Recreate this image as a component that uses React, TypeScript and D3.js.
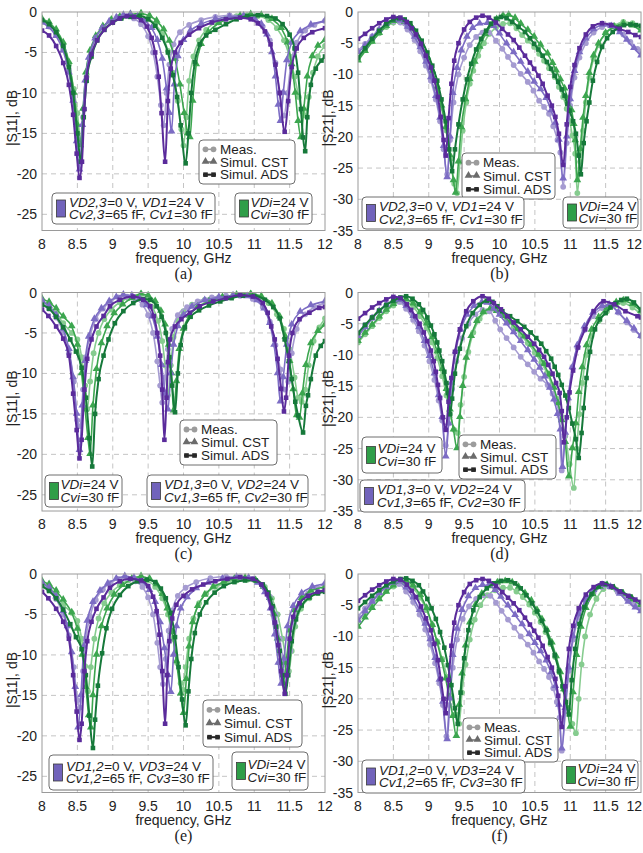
import React from 'react';
import * as d3 from 'd3';

type Pt = [number, number];

// ---------- data: frequency (GHz), dB ----------
const freqTicks = [8, 8.5, 9, 9.5, 10, 10.5, 11, 11.5, 12];
const s11Ticks = [0, -5, -10, -15, -20, -25];
const s21Ticks = [0, -5, -10, -15, -20, -25, -30, -35];

// (a) |S11|
const aPurADS: Pt[] = [[8,-2.3],[8.1,-2.9],[8.2,-4.2],[8.3,-6.3],[8.38,-9],[8.44,-12.7],[8.49,-17.5],[8.53,-20.5],[8.565,-18.5],[8.6,-12],[8.63,-8.1],[8.7,-5.2],[8.78,-3.5],[8.88,-2.2],[9,-1.3],[9.1,-0.8],[9.2,-0.5],[9.3,-0.6],[9.4,-1.0],[9.48,-1.8],[9.55,-3.2],[9.6,-5],[9.65,-8],[9.69,-12.5],[9.74,-18.5],[9.78,-11],[9.82,-7],[9.88,-5],[9.96,-3.8],[10.08,-2.8],[10.22,-2],[10.4,-1.3],[10.6,-0.9],[10.8,-0.7],[10.95,-0.9],[11.05,-1.4],[11.15,-2.4],[11.23,-4],[11.3,-6.5],[11.36,-10],[11.43,-14.8],[11.48,-11],[11.53,-6.8],[11.6,-4.5],[11.7,-3.2],[11.82,-2.5],[12,-2.0]];
const aPurCST: Pt[] = [[8,-1.3],[8.1,-1.9],[8.2,-3],[8.3,-4.8],[8.38,-7.5],[8.44,-11],[8.49,-16],[8.53,-19.5],[8.57,-14],[8.61,-8.5],[8.66,-5.7],[8.75,-3.3],[8.85,-2],[8.95,-1.2],[9.05,-0.7],[9.15,-0.4],[9.25,-0.3],[9.35,-0.6],[9.45,-1.1],[9.55,-2],[9.63,-3.5],[9.7,-5.8],[9.76,-9.5],[9.8,-12.5],[9.83,-14.8],[9.87,-9],[9.92,-5.5],[10,-3.5],[10.1,-2.3],[10.25,-1.5],[10.45,-0.9],[10.65,-0.6],[10.85,-0.5],[11,-0.8],[11.1,-1.5],[11.18,-2.8],[11.25,-5],[11.3,-8],[11.34,-11.5],[11.37,-13.5],[11.41,-10],[11.46,-6],[11.53,-3.8],[11.65,-2.4],[11.8,-1.6],[12,-1.1]];
const aPurMeas: Pt[] = [[8,-1.2],[8.1,-1.8],[8.2,-2.8],[8.3,-4.6],[8.38,-7.2],[8.44,-10.5],[8.5,-15.5],[8.54,-18.5],[8.58,-13],[8.62,-8.5],[8.68,-5.5],[8.76,-3.3],[8.86,-1.9],[8.97,-1.1],[9.08,-0.6],[9.2,-0.5],[9.3,-0.8],[9.4,-1.5],[9.5,-3],[9.57,-5],[9.63,-8],[9.68,-11.5],[9.72,-14],[9.76,-10],[9.8,-6.5],[9.86,-4],[9.95,-2.5],[10.08,-1.6],[10.25,-1],[10.45,-0.6],[10.65,-0.4],[10.85,-0.5],[11,-0.9],[11.12,-1.8],[11.22,-3.5],[11.3,-6.3],[11.36,-10],[11.42,-12.8],[11.47,-10],[11.52,-6.3],[11.6,-3.8],[11.72,-2.3],[11.85,-1.6],[12,-1.1]];
const aGrnADS: Pt[] = [[8,-1.0],[8.1,-1.5],[8.2,-2.5],[8.3,-4.2],[8.38,-6.8],[8.44,-10],[8.5,-15],[8.55,-18.5],[8.59,-13],[8.63,-8.5],[8.7,-5.5],[8.78,-3.5],[8.88,-2.2],[9,-1.3],[9.12,-0.8],[9.25,-0.6],[9.38,-0.5],[9.5,-0.9],[9.6,-1.7],[9.7,-3.2],[9.78,-5],[9.85,-7.8],[9.91,-10.5],[9.96,-14],[10.03,-18.7],[10.07,-15],[10.11,-10],[10.16,-6.2],[10.23,-4],[10.32,-2.9],[10.45,-2.2],[10.6,-1.5],[10.75,-0.9],[10.9,-0.5],[11.05,-0.4],[11.18,-0.5],[11.3,-0.8],[11.4,-1.5],[11.5,-2.8],[11.57,-4.5],[11.62,-7.5],[11.66,-12],[11.69,-15.5],[11.72,-17.2],[11.75,-13],[11.8,-9],[11.87,-7],[11.95,-6],[12,-5.5]];
const aGrnCST: Pt[] = [[8,-0.9],[8.1,-1.3],[8.2,-2.2],[8.3,-3.8],[8.38,-6.2],[8.45,-10],[8.5,-14],[8.54,-16.5],[8.58,-12],[8.62,-7.5],[8.68,-4.8],[8.76,-3],[8.86,-1.8],[8.98,-1.0],[9.1,-0.6],[9.25,-0.3],[9.4,-0.2],[9.52,-0.5],[9.62,-1.1],[9.72,-2.2],[9.8,-3.6],[9.88,-5.8],[9.95,-9],[10.01,-12.5],[10.06,-15],[10.09,-15.5],[10.13,-11],[10.18,-6.5],[10.25,-4],[10.35,-2.5],[10.5,-1.4],[10.65,-0.8],[10.8,-0.5],[10.95,-0.3],[11.1,-0.4],[11.25,-0.9],[11.38,-2],[11.47,-3.8],[11.53,-6.5],[11.58,-10],[11.62,-13.5],[11.66,-15.5],[11.7,-12],[11.75,-8],[11.82,-5.5],[11.9,-4.2],[12,-3.5]];
const aGrnMeas: Pt[] = [[8,-1.2],[8.1,-1.7],[8.2,-2.6],[8.3,-4.2],[8.38,-6.5],[8.45,-9.5],[8.5,-12.5],[8.55,-16],[8.59,-12],[8.63,-8],[8.7,-5],[8.78,-3.2],[8.88,-2],[9,-1.2],[9.12,-0.7],[9.25,-0.5],[9.38,-0.5],[9.5,-0.8],[9.6,-1.5],[9.7,-2.8],[9.78,-4.8],[9.85,-7.5],[9.92,-11],[9.97,-14.5],[10.0,-16.5],[10.04,-13],[10.08,-8.5],[10.14,-5.5],[10.22,-3.5],[10.32,-2.2],[10.45,-1.3],[10.6,-0.8],[10.75,-0.5],[10.9,-0.4],[11.05,-0.5],[11.2,-1.0],[11.32,-2],[11.42,-3.5],[11.5,-5.5],[11.57,-8],[11.63,-10.5],[11.68,-12.3],[11.72,-12.8],[11.77,-10.5],[11.83,-7.5],[11.9,-5.5],[12,-4.2]];

// (b) |S21|
const bPurADS: Pt[] = [[8,-4.3],[8.1,-3.5],[8.2,-2.6],[8.3,-1.8],[8.4,-1.2],[8.5,-0.8],[8.6,-0.9],[8.69,-1.6],[8.76,-2.6],[8.82,-3.6],[8.89,-5.1],[8.96,-7],[9.03,-8.9],[9.08,-11],[9.13,-13.6],[9.17,-16.8],[9.21,-20.5],[9.24,-23],[9.28,-17],[9.32,-11.5],[9.36,-7.8],[9.42,-5],[9.5,-2.8],[9.58,-1.6],[9.67,-0.9],[9.76,-0.6],[9.85,-0.9],[9.95,-1.7],[10.04,-2.7],[10.12,-3.6],[10.2,-4.5],[10.28,-5.7],[10.36,-7],[10.43,-8.1],[10.49,-9.1],[10.55,-10.2],[10.61,-11.5],[10.68,-13.4],[10.74,-15],[10.79,-16.8],[10.84,-19.5],[10.9,-24.5],[10.95,-18],[11,-12],[11.06,-8.5],[11.13,-5.8],[11.22,-3.6],[11.32,-2.3],[11.45,-1.8],[11.58,-2.1],[11.7,-2.7],[11.82,-3.2],[11.92,-3.7],[12,-4.0]];
const bPurCST: Pt[] = [[8,-6.5],[8.1,-5.4],[8.2,-4.1],[8.3,-2.9],[8.4,-1.9],[8.5,-1.3],[8.6,-1.4],[8.7,-2.4],[8.8,-4],[8.88,-5.7],[8.96,-8],[9.03,-10.5],[9.1,-13.5],[9.16,-17],[9.21,-21.5],[9.26,-26.5],[9.3,-20],[9.34,-13],[9.4,-9],[9.46,-6.2],[9.54,-4],[9.62,-2.6],[9.72,-1.9],[9.83,-1.8],[9.92,-2.3],[10.0,-3.5],[10.1,-5.1],[10.2,-6.5],[10.3,-8],[10.4,-9.6],[10.49,-11.2],[10.58,-12.4],[10.66,-13.8],[10.73,-15.8],[10.79,-17.8],[10.84,-20.5],[10.9,-26.7],[10.95,-20],[11,-14],[11.06,-9.5],[11.13,-6.5],[11.22,-4.3],[11.33,-2.8],[11.45,-2.1],[11.58,-2.3],[11.7,-3.3],[11.8,-4.5],[11.9,-5.8],[12,-7.0]];
const bPurMeas: Pt[] = [[8,-6.2],[8.1,-5.1],[8.2,-3.9],[8.3,-2.8],[8.4,-2],[8.5,-1.5],[8.6,-1.7],[8.7,-2.8],[8.8,-4.5],[8.88,-6.3],[8.96,-8.6],[9.03,-11],[9.1,-14],[9.16,-17.5],[9.21,-22],[9.26,-26],[9.3,-20.5],[9.35,-14.5],[9.42,-10],[9.5,-7.3],[9.58,-5.3],[9.67,-4],[9.76,-3.3],[9.85,-3.3],[9.95,-4.6],[10.04,-5.9],[10.12,-7.2],[10.2,-8.5],[10.3,-9.9],[10.4,-11.2],[10.48,-12.6],[10.56,-14.2],[10.63,-15.2],[10.7,-16.3],[10.76,-18.3],[10.82,-20.5],[10.86,-22.5],[10.9,-28],[10.95,-21],[11,-15],[11.06,-10.5],[11.13,-7.3],[11.22,-5],[11.33,-3.3],[11.45,-2.4],[11.55,-2.1],[11.65,-2.6],[11.75,-3.6],[11.85,-4.8],[11.95,-5.9],[12,-6.3]];
const bGrnADS: Pt[] = [[8,-7.3],[8.1,-5.8],[8.2,-4.3],[8.3,-3],[8.4,-1.9],[8.5,-1.2],[8.58,-1.0],[8.66,-1.2],[8.74,-1.8],[8.82,-3],[8.9,-4.6],[8.98,-6.5],[9.05,-8.6],[9.12,-11],[9.18,-14],[9.24,-17.5],[9.29,-22],[9.33,-25.5],[9.37,-22],[9.42,-18],[9.48,-14],[9.54,-10.8],[9.6,-8.3],[9.67,-6],[9.74,-4.3],[9.81,-3],[9.88,-1.9],[9.95,-1.1],[10.02,-0.8],[10.1,-1.0],[10.18,-1.6],[10.27,-2.4],[10.36,-3.2],[10.43,-4.2],[10.49,-5.1],[10.55,-6],[10.61,-7],[10.67,-8],[10.73,-9.1],[10.78,-10.2],[10.83,-11.2],[10.88,-12.4],[10.92,-13.4],[10.96,-14.7],[10.99,-15.8],[11.04,-17.5],[11.08,-19.5],[11.12,-23],[11.15,-26],[11.19,-21],[11.23,-17.5],[11.27,-14.5],[11.32,-11],[11.38,-8],[11.45,-5.6],[11.52,-4.2],[11.6,-3.2],[11.68,-2.5],[11.76,-2.1],[11.85,-2.0],[11.93,-2.1],[12,-2.2]];
const bGrnCST: Pt[] = [[8,-7.8],[8.1,-6.3],[8.2,-4.8],[8.3,-3.4],[8.4,-2.3],[8.5,-1.5],[8.58,-1.3],[8.66,-1.6],[8.74,-2.4],[8.82,-3.6],[8.9,-5.3],[8.98,-7.3],[9.05,-9.5],[9.12,-12],[9.18,-15],[9.24,-18.5],[9.3,-23],[9.35,-27],[9.38,-29],[9.42,-24],[9.46,-18.5],[9.52,-14],[9.58,-10.8],[9.65,-8],[9.72,-5.6],[9.8,-3.6],[9.88,-2.2],[9.96,-1.2],[10.05,-0.6],[10.13,-0.5],[10.22,-1.0],[10.3,-1.9],[10.4,-2.9],[10.49,-4],[10.58,-5.3],[10.68,-6.7],[10.75,-8.2],[10.8,-9.4],[10.86,-10.8],[10.92,-12.3],[10.97,-14],[11.02,-15.8],[11.05,-18],[11.07,-20.6],[11.1,-27],[11.14,-22],[11.18,-17],[11.22,-13.5],[11.27,-9.8],[11.33,-7],[11.4,-5.1],[11.5,-3.4],[11.62,-2.4],[11.75,-1.9],[11.88,-2.2],[12,-3.0]];
const bGrnMeas: Pt[] = [[8,-7.5],[8.1,-6.1],[8.2,-4.7],[8.3,-3.4],[8.4,-2.4],[8.5,-1.7],[8.58,-1.5],[8.66,-1.8],[8.74,-2.6],[8.82,-3.8],[8.9,-5.4],[8.98,-7.4],[9.05,-9.6],[9.12,-12.2],[9.18,-15.3],[9.25,-19],[9.31,-23.5],[9.36,-27.5],[9.4,-29],[9.44,-24],[9.48,-19],[9.53,-14.5],[9.58,-11.5],[9.63,-9.4],[9.7,-7],[9.78,-5],[9.86,-3.5],[9.95,-2.5],[10.05,-1.9],[10.15,-1.8],[10.24,-2.6],[10.32,-3.7],[10.4,-4.6],[10.49,-5.6],[10.56,-6.7],[10.63,-7.8],[10.7,-9],[10.78,-10.4],[10.84,-12],[10.9,-13.6],[10.95,-15.5],[10.99,-17.4],[11.03,-19.8],[11.07,-22.7],[11.1,-29],[11.14,-24],[11.18,-19],[11.22,-14.5],[11.27,-10.5],[11.33,-7.5],[11.4,-5.3],[11.5,-3.4],[11.62,-2.2],[11.75,-1.6],[11.88,-1.8],[12,-2.6]];

// (c) |S11|
const cPurADS: Pt[] = [[8,-2.1],[8.09,-2.9],[8.2,-4.2],[8.3,-5.7],[8.38,-7.8],[8.44,-12.5],[8.49,-17],[8.53,-20.5],[8.56,-18.2],[8.6,-12],[8.64,-8.2],[8.7,-5.8],[8.77,-4.2],[8.87,-2.9],[8.96,-1.7],[9.1,-0.9],[9.29,-0.5],[9.43,-0.9],[9.53,-1.7],[9.58,-2.9],[9.63,-5],[9.67,-7.8],[9.7,-12],[9.73,-18.2],[9.76,-13],[9.78,-8.6],[9.81,-5.8],[9.88,-4.2],[9.97,-3.3],[10.09,-2.5],[10.23,-1.7],[10.42,-1.1],[10.6,-0.7],[10.8,-0.3],[10.98,-0.5],[11.12,-1.3],[11.19,-2.5],[11.24,-4.2],[11.29,-5.8],[11.33,-8.2],[11.38,-11.9],[11.42,-14.7],[11.45,-13],[11.49,-7.8],[11.54,-5],[11.64,-3.3],[11.78,-2.5],[11.92,-1.9],[12,-1.8]];
const cPurCST: Pt[] = [[8,-1.0],[8.1,-1.7],[8.2,-2.8],[8.3,-4.5],[8.38,-7],[8.44,-10.5],[8.49,-15],[8.53,-19.5],[8.57,-14],[8.61,-8.5],[8.66,-5.5],[8.74,-3.3],[8.84,-2],[8.95,-1.1],[9.05,-0.6],[9.15,-0.3],[9.27,-0.4],[9.38,-0.8],[9.48,-1.6],[9.56,-3],[9.63,-5.5],[9.69,-9],[9.74,-12.5],[9.78,-14.5],[9.82,-10],[9.86,-6.5],[9.92,-4.2],[10,-2.8],[10.12,-1.8],[10.3,-1.0],[10.5,-0.6],[10.7,-0.4],[10.9,-0.5],[11.04,-1.0],[11.14,-2],[11.22,-3.8],[11.28,-6.5],[11.33,-10],[11.37,-13.5],[11.41,-10.5],[11.46,-6.5],[11.53,-4],[11.65,-2.4],[11.8,-1.6],[12,-1.1]];
const cPurMeas: Pt[] = [[8,-1.3],[8.1,-2],[8.2,-3.1],[8.3,-4.9],[8.38,-7.5],[8.45,-11],[8.5,-15.8],[8.54,-16.5],[8.58,-12],[8.62,-8],[8.68,-5.3],[8.76,-3.3],[8.86,-2],[8.97,-1.1],[9.08,-0.6],[9.2,-0.5],[9.32,-0.8],[9.42,-1.5],[9.5,-2.8],[9.57,-5],[9.63,-8.5],[9.67,-11.5],[9.7,-13.6],[9.74,-10.5],[9.78,-7],[9.84,-4.5],[9.92,-2.8],[10.05,-1.8],[10.2,-1.1],[10.4,-0.6],[10.6,-0.4],[10.8,-0.4],[10.98,-0.8],[11.12,-1.8],[11.22,-3.6],[11.3,-6.5],[11.37,-9.5],[11.43,-12],[11.48,-11],[11.53,-7.5],[11.6,-4.5],[11.72,-2.7],[11.85,-1.8],[12,-1.3]];
const cGrnADS: Pt[] = [[8,-1.5],[8.1,-2.0],[8.2,-3.0],[8.3,-4.3],[8.4,-5.8],[8.48,-7.3],[8.56,-9.3],[8.62,-13],[8.67,-18],[8.71,-21.5],[8.75,-15],[8.8,-10.7],[8.87,-7.8],[8.94,-5.8],[9.03,-3.8],[9.15,-2.3],[9.29,-1.3],[9.43,-0.8],[9.53,-0.9],[9.62,-1.7],[9.69,-3],[9.75,-5],[9.8,-8],[9.84,-11.5],[9.88,-14.8],[9.92,-10],[9.96,-6.5],[10.02,-4.3],[10.1,-3],[10.22,-2.2],[10.36,-1.6],[10.52,-1.1],[10.68,-0.7],[10.84,-0.4],[11,-0.4],[11.15,-0.9],[11.27,-1.8],[11.36,-3.2],[11.43,-5.8],[11.49,-8.5],[11.53,-10.7],[11.58,-13.5],[11.62,-15.2],[11.69,-17.3],[11.73,-14],[11.76,-12.7],[11.8,-10.7],[11.87,-7.8],[11.94,-6.6],[12,-6.0]];
const cGrnCST: Pt[] = [[8,-0.8],[8.1,-1.2],[8.2,-2],[8.3,-3],[8.42,-4.2],[8.5,-6.5],[8.56,-10],[8.61,-14.5],[8.65,-18],[8.68,-20],[8.72,-14],[8.77,-9.5],[8.84,-6.3],[8.92,-4.2],[9.02,-2.6],[9.14,-1.5],[9.27,-0.7],[9.4,-0.2],[9.5,-0.4],[9.6,-1.1],[9.68,-2.3],[9.74,-4],[9.79,-6.5],[9.83,-10],[9.86,-14.6],[9.9,-11],[9.94,-7],[10,-4.5],[10.08,-2.9],[10.2,-1.8],[10.36,-1.1],[10.55,-0.6],[10.75,-0.3],[10.95,-0.2],[11.1,-0.5],[11.25,-1.4],[11.36,-3],[11.44,-5.5],[11.5,-8.5],[11.55,-12],[11.6,-15.2],[11.64,-15.5],[11.68,-12.5],[11.73,-9],[11.8,-6.3],[11.9,-4.8],[12,-4.0]];
const cGrnMeas: Pt[] = [[8,-1.2],[8.1,-1.7],[8.2,-2.6],[8.3,-3.8],[8.42,-5],[8.5,-5.8],[8.56,-8],[8.61,-11.5],[8.64,-14.4],[8.68,-11],[8.73,-7.5],[8.8,-5],[8.88,-3.3],[8.98,-2.1],[9.1,-1.2],[9.22,-0.7],[9.35,-0.5],[9.47,-0.9],[9.56,-1.8],[9.64,-3.5],[9.7,-6],[9.74,-9],[9.78,-12.7],[9.82,-9],[9.86,-5.5],[9.92,-3.5],[10.0,-2.3],[10.12,-1.5],[10.3,-0.9],[10.5,-0.6],[10.7,-0.4],[10.9,-0.3],[11.05,-0.6],[11.2,-1.3],[11.32,-2.7],[11.42,-4.5],[11.5,-7],[11.57,-10.5],[11.62,-13],[11.67,-13.5],[11.72,-12],[11.77,-9],[11.84,-6],[11.92,-4.3],[12,-3.2]];

// (d) |S21|
const dPurADS: Pt[] = [[8,-4.2],[8.1,-3.3],[8.2,-2.4],[8.3,-1.7],[8.4,-1.1],[8.5,-0.7],[8.6,-0.9],[8.69,-1.9],[8.75,-2.8],[8.81,-3.8],[8.87,-5],[8.93,-6.4],[8.98,-7.8],[9.03,-9.3],[9.07,-11],[9.1,-12.7],[9.13,-14.8],[9.16,-16.9],[9.2,-20],[9.24,-22],[9.28,-17.5],[9.32,-13.7],[9.37,-9.5],[9.44,-5.9],[9.53,-3],[9.63,-1.4],[9.76,-0.6],[9.85,-1.0],[9.92,-1.7],[10.02,-2.7],[10.11,-3.8],[10.2,-4.8],[10.3,-5.9],[10.4,-7.1],[10.49,-8.2],[10.56,-9.2],[10.63,-10.3],[10.69,-11.6],[10.75,-13],[10.8,-14.5],[10.85,-16.1],[10.88,-19],[10.91,-24],[10.95,-20],[10.99,-16],[11.04,-12.5],[11.11,-8.8],[11.21,-5.9],[11.33,-3],[11.47,-1.4],[11.62,-1.9],[11.78,-3],[11.95,-3.8],[12,-4.0]];
const dPurCST: Pt[] = [[8,-7.0],[8.1,-5.6],[8.2,-4.2],[8.3,-3],[8.4,-2],[8.5,-1.3],[8.58,-1.2],[8.68,-2.2],[8.78,-3.8],[8.86,-5.6],[8.94,-7.8],[9.01,-10.2],[9.08,-13],[9.14,-16.5],[9.19,-20],[9.24,-26.3],[9.28,-21],[9.32,-14.5],[9.38,-9.5],[9.45,-6],[9.54,-3.6],[9.64,-2.2],[9.75,-1.6],[9.83,-1.7],[9.92,-2.6],[10.0,-3.6],[10.1,-5],[10.2,-6.4],[10.3,-7.8],[10.4,-9.3],[10.49,-10.8],[10.57,-12.1],[10.64,-13.5],[10.71,-15.3],[10.77,-17.2],[10.82,-19.5],[10.86,-22],[10.89,-28],[10.93,-22.5],[10.97,-17],[11.03,-12],[11.1,-8.5],[11.2,-5.5],[11.32,-3.3],[11.45,-2.2],[11.55,-2],[11.68,-3.2],[11.8,-4.6],[11.9,-5.8],[12,-7.0]];
const dPurMeas: Pt[] = [[8,-6.5],[8.1,-5.2],[8.2,-4],[8.3,-2.9],[8.4,-2],[8.5,-1.5],[8.58,-1.5],[8.68,-2.6],[8.78,-4.4],[8.86,-6.2],[8.94,-8.5],[9.01,-11],[9.08,-14],[9.14,-17.3],[9.19,-20.5],[9.24,-24.5],[9.28,-21],[9.33,-15.5],[9.39,-11],[9.47,-7.3],[9.56,-5],[9.66,-3.5],[9.76,-2.8],[9.86,-3],[9.94,-4.5],[10.01,-5.9],[10.1,-7.3],[10.2,-8.8],[10.3,-10.3],[10.4,-11.5],[10.49,-12.7],[10.58,-13.8],[10.68,-14.8],[10.75,-16.2],[10.8,-17.4],[10.84,-19.5],[10.88,-28.5],[10.92,-23],[10.97,-17],[11.03,-12],[11.1,-8.8],[11.2,-6],[11.32,-3.8],[11.45,-2.5],[11.57,-2.1],[11.68,-3.2],[11.8,-4.8],[11.9,-6],[12,-7.0]];
const dGrnADS: Pt[] = [[8,-6.5],[8.1,-5.2],[8.2,-4],[8.3,-2.9],[8.4,-2],[8.5,-1.3],[8.6,-0.8],[8.68,-0.6],[8.77,-1.0],[8.86,-1.9],[8.92,-2.8],[8.98,-4],[9.03,-5.3],[9.08,-6.7],[9.12,-8],[9.15,-9.3],[9.19,-11],[9.22,-12.7],[9.25,-14.5],[9.27,-16.1],[9.3,-19.5],[9.33,-17],[9.37,-13],[9.44,-9],[9.53,-5.4],[9.62,-3.3],[9.72,-2],[9.82,-1.3],[9.9,-1.5],[9.97,-2.2],[10.04,-3],[10.15,-3.8],[10.25,-4.6],[10.35,-5.5],[10.44,-6.4],[10.52,-7.3],[10.59,-8.2],[10.66,-9.4],[10.73,-10.6],[10.78,-11.9],[10.83,-13.2],[10.88,-14.8],[10.93,-16.5],[10.98,-18.5],[11.03,-21],[11.08,-23.5],[11.12,-26.5],[11.16,-22.5],[11.19,-18.5],[11.23,-13.7],[11.28,-9.5],[11.35,-5.9],[11.42,-4.3],[11.5,-3.3],[11.57,-2.4],[11.64,-1.7],[11.72,-1.2],[11.8,-1.0],[11.9,-1.6],[12,-2.8]];
const dGrnCST: Pt[] = [[8,-7.8],[8.1,-6.5],[8.2,-5.2],[8.3,-3.9],[8.4,-2.8],[8.5,-1.9],[8.6,-1.2],[8.68,-1.1],[8.78,-1.8],[8.88,-3.2],[8.97,-5],[9.05,-7.2],[9.12,-9.5],[9.19,-12.3],[9.25,-15.5],[9.3,-18.8],[9.35,-22],[9.4,-25],[9.44,-20],[9.48,-15],[9.53,-10.5],[9.6,-7],[9.68,-4.6],[9.77,-3.2],[9.87,-2.6],[9.96,-3],[10.05,-3.8],[10.15,-4.8],[10.25,-5.9],[10.35,-7.1],[10.45,-8.4],[10.55,-10],[10.63,-11.5],[10.7,-13.2],[10.77,-15.3],[10.83,-17.8],[10.88,-20.5],[10.93,-24],[10.98,-29.5],[11.03,-25],[11.08,-21],[11.12,-16],[11.17,-12],[11.23,-8.5],[11.3,-6],[11.4,-4],[11.52,-2.5],[11.65,-1.6],[11.75,-1.3],[11.88,-1.9],[12,-3.0]];
const dGrnMeas: Pt[] = [[8,-8.0],[8.1,-6.7],[8.2,-5.4],[8.3,-4.1],[8.4,-3],[8.5,-2.1],[8.6,-1.5],[8.68,-1.5],[8.78,-2.3],[8.88,-3.8],[8.97,-5.7],[9.05,-8],[9.12,-10.5],[9.19,-13.4],[9.25,-16.5],[9.3,-19.5],[9.36,-22],[9.41,-22.5],[9.45,-18],[9.5,-13.5],[9.56,-9.5],[9.63,-6.4],[9.72,-4.2],[9.82,-3],[9.92,-2.6],[10.0,-3.2],[10.1,-4.3],[10.2,-5.5],[10.3,-6.8],[10.4,-8.1],[10.5,-9.6],[10.59,-11.2],[10.67,-12.9],[10.74,-14.8],[10.81,-17],[10.87,-19.8],[10.93,-23],[10.99,-27.5],[11.05,-31.3],[11.09,-25],[11.13,-19.5],[11.17,-14.5],[11.23,-10],[11.3,-7],[11.4,-4.6],[11.52,-3],[11.65,-2],[11.75,-1.7],[11.88,-2.4],[12,-3.5]];

// (e) |S11|
const ePurADS: Pt[] = [[8,-2.2],[8.09,-3],[8.2,-4.3],[8.3,-5.9],[8.38,-8],[8.44,-12.5],[8.49,-17],[8.53,-20.5],[8.56,-18.5],[8.6,-12],[8.64,-8.3],[8.7,-5.9],[8.77,-4.3],[8.87,-2.9],[8.96,-1.7],[9.1,-0.9],[9.25,-0.6],[9.4,-0.8],[9.5,-1.5],[9.57,-2.8],[9.62,-4.6],[9.66,-7.5],[9.7,-12],[9.74,-18.5],[9.77,-12.5],[9.8,-8.3],[9.84,-5.5],[9.9,-3.8],[10,-2.7],[10.12,-1.9],[10.28,-1.3],[10.45,-0.9],[10.62,-0.6],[10.8,-0.4],[10.98,-0.6],[11.1,-1.3],[11.18,-2.5],[11.24,-4.2],[11.29,-6],[11.34,-8.8],[11.38,-12],[11.43,-14.8],[11.46,-12.5],[11.5,-8],[11.55,-5.3],[11.64,-3.6],[11.76,-2.7],[11.9,-2.2],[12,-2.0]];
const ePurCST: Pt[] = [[8,-1.1],[8.1,-1.7],[8.2,-2.8],[8.3,-4.6],[8.36,-6.5],[8.42,-9.7],[8.47,-14],[8.51,-19],[8.55,-15],[8.59,-9],[8.64,-5.8],[8.72,-3.5],[8.82,-2.1],[8.93,-1.2],[9.05,-0.6],[9.17,-0.3],[9.3,-0.5],[9.42,-1],[9.52,-2],[9.6,-3.5],[9.67,-6],[9.73,-9.2],[9.78,-12.5],[9.82,-14.6],[9.86,-10],[9.9,-6.5],[9.96,-4.3],[10.05,-2.9],[10.18,-1.8],[10.35,-1.1],[10.55,-0.6],[10.75,-0.4],[10.92,-0.5],[11.05,-1.1],[11.15,-2.3],[11.23,-4.3],[11.29,-7.5],[11.34,-11],[11.38,-13.6],[11.42,-10.5],[11.47,-6.5],[11.55,-4],[11.67,-2.4],[11.82,-1.6],[12,-1.2]];
const ePurMeas: Pt[] = [[8,-1.3],[8.1,-2],[8.2,-3.1],[8.3,-5],[8.38,-7.6],[8.45,-11.5],[8.5,-15.6],[8.54,-16.5],[8.58,-12],[8.62,-8],[8.68,-5.2],[8.76,-3.2],[8.86,-1.9],[8.97,-1.1],[9.08,-0.6],[9.2,-0.5],[9.32,-0.9],[9.42,-1.6],[9.5,-2.9],[9.57,-5],[9.63,-8.5],[9.67,-11.5],[9.71,-13.6],[9.75,-10.5],[9.79,-7],[9.84,-4.5],[9.92,-2.7],[10.03,-1.7],[10.18,-1],[10.38,-0.5],[10.6,-0.3],[10.8,-0.3],[10.98,-0.6],[11.12,-1.4],[11.22,-2.8],[11.3,-5],[11.36,-8],[11.42,-11],[11.47,-12],[11.51,-9.5],[11.56,-6],[11.64,-3.8],[11.76,-2.4],[11.88,-1.7],[12,-1.3]];
const eGrnADS: Pt[] = [[8,-1.5],[8.1,-2.1],[8.2,-3],[8.3,-4.4],[8.4,-6.2],[8.48,-7.8],[8.56,-9.3],[8.62,-12.5],[8.67,-17.5],[8.72,-21.5],[8.75,-18],[8.79,-13.8],[8.85,-9.8],[8.91,-6.7],[8.99,-4.3],[9.1,-2.6],[9.22,-1.5],[9.35,-0.9],[9.48,-0.7],[9.6,-1.0],[9.68,-1.8],[9.75,-3],[9.82,-4.8],[9.88,-7.8],[9.93,-11.5],[9.98,-15.5],[10.03,-18.7],[10.07,-14.5],[10.11,-10.5],[10.16,-7.3],[10.23,-5],[10.32,-3.5],[10.44,-2.3],[10.57,-1.5],[10.72,-1],[10.87,-0.8],[11.02,-0.8],[11.12,-1.3],[11.2,-2.3],[11.26,-4],[11.31,-6.5],[11.36,-9.5],[11.4,-12.5],[11.44,-14.8],[11.48,-12.5],[11.53,-8.3],[11.59,-5.6],[11.67,-3.9],[11.78,-2.9],[11.9,-2.4],[12,-2.2]];
const eGrnCST: Pt[] = [[8,-0.9],[8.1,-1.3],[8.2,-2.1],[8.3,-3.2],[8.42,-4.8],[8.5,-6.8],[8.57,-10],[8.62,-14],[8.66,-17.5],[8.69,-19],[8.72,-15],[8.77,-10],[8.84,-6.5],[8.92,-4.3],[9.02,-2.6],[9.14,-1.4],[9.27,-0.6],[9.4,-0.3],[9.52,-0.6],[9.62,-1.3],[9.7,-2.5],[9.77,-4.3],[9.84,-7.2],[9.9,-10.8],[9.96,-14.8],[10.0,-17.2],[10.04,-13],[10.08,-9],[10.13,-6],[10.2,-4],[10.3,-2.6],[10.42,-1.6],[10.57,-1],[10.72,-0.6],[10.87,-0.5],[11.02,-0.8],[11.13,-1.6],[11.22,-3],[11.28,-5],[11.33,-8],[11.37,-11],[11.41,-13.5],[11.45,-11],[11.5,-7],[11.57,-4.5],[11.67,-3],[11.8,-2.1],[12,-1.6]];
const eGrnMeas: Pt[] = [[8,-1.2],[8.1,-1.7],[8.2,-2.6],[8.3,-3.8],[8.42,-4.8],[8.5,-5.8],[8.56,-8],[8.61,-11.4],[8.65,-14.5],[8.69,-11.5],[8.74,-8],[8.8,-5.5],[8.88,-3.6],[8.98,-2.3],[9.1,-1.4],[9.22,-0.8],[9.35,-0.6],[9.48,-0.8],[9.6,-1.6],[9.7,-3],[9.78,-5],[9.85,-8],[9.91,-11],[9.96,-13.5],[9.99,-14.3],[10.03,-11.5],[10.08,-8],[10.14,-5.5],[10.22,-3.6],[10.32,-2.4],[10.45,-1.6],[10.6,-1.1],[10.75,-0.8],[10.9,-0.7],[11.03,-0.9],[11.15,-1.6],[11.25,-3],[11.33,-5],[11.4,-8],[11.45,-10.5],[11.49,-12],[11.53,-9.5],[11.58,-6.5],[11.66,-4.3],[11.78,-3],[11.9,-2.3],[12,-2.0]];

// (f) |S21|
const fPurADS: Pt[] = [[8,-4.3],[8.1,-3.4],[8.2,-2.5],[8.3,-1.8],[8.4,-1.2],[8.5,-0.8],[8.6,-0.9],[8.69,-1.7],[8.76,-2.7],[8.82,-3.7],[8.89,-5.2],[8.96,-7.1],[9.03,-9],[9.08,-11.2],[9.13,-13.8],[9.17,-16.8],[9.21,-20],[9.24,-22.3],[9.28,-17],[9.32,-11.5],[9.36,-7.8],[9.42,-5],[9.5,-2.9],[9.58,-1.6],[9.67,-1.0],[9.76,-0.8],[9.85,-1.1],[9.95,-1.9],[10.04,-2.9],[10.12,-3.8],[10.2,-4.7],[10.28,-5.8],[10.36,-7],[10.43,-8.1],[10.49,-9.1],[10.55,-10.2],[10.61,-11.5],[10.68,-13.3],[10.74,-15],[10.79,-16.8],[10.83,-19.5],[10.88,-24.5],[10.93,-18],[10.98,-12],[11.04,-8.3],[11.12,-5.5],[11.22,-3.3],[11.33,-2.1],[11.45,-1.5],[11.58,-2],[11.7,-2.8],[11.82,-3.5],[11.92,-4.1],[12,-4.5]];
const fPurCST: Pt[] = [[8,-7.5],[8.1,-6],[8.2,-4.5],[8.3,-3.1],[8.4,-2.1],[8.5,-1.4],[8.58,-1.2],[8.68,-2.2],[8.78,-3.8],[8.87,-5.8],[8.95,-8],[9.02,-10.5],[9.09,-13.5],[9.15,-17],[9.2,-20.5],[9.26,-26.5],[9.3,-20],[9.34,-13],[9.4,-8.8],[9.47,-5.8],[9.56,-3.6],[9.66,-2.3],[9.76,-1.8],[9.85,-1.8],[9.94,-2.6],[10.02,-3.7],[10.12,-5.1],[10.22,-6.6],[10.32,-8.1],[10.42,-9.7],[10.5,-11.1],[10.58,-12.4],[10.66,-13.9],[10.73,-15.8],[10.79,-18],[10.84,-21],[10.88,-28],[10.93,-21.5],[10.98,-15],[11.04,-10],[11.12,-6.5],[11.22,-4.2],[11.33,-2.6],[11.45,-1.8],[11.57,-2.1],[11.7,-3.2],[11.82,-4.5],[11.92,-5.4],[12,-6.0]];
const fPurMeas: Pt[] = [[8,-6.8],[8.1,-5.5],[8.2,-4.2],[8.3,-3],[8.4,-2.1],[8.5,-1.6],[8.58,-1.6],[8.68,-2.8],[8.78,-4.5],[8.87,-6.5],[8.95,-8.9],[9.02,-11.3],[9.09,-14.3],[9.15,-17.5],[9.2,-21],[9.25,-26],[9.29,-21],[9.34,-15],[9.4,-10.5],[9.48,-7.2],[9.57,-5.2],[9.67,-4],[9.77,-3.4],[9.87,-3.5],[9.95,-4.6],[10.03,-5.9],[10.12,-7.3],[10.21,-8.6],[10.3,-10],[10.4,-11.3],[10.48,-12.6],[10.56,-14],[10.63,-15.2],[10.7,-16.5],[10.76,-18.3],[10.81,-20.5],[10.85,-23],[10.88,-28.3],[10.93,-22],[10.98,-15.5],[11.04,-10.5],[11.12,-7],[11.22,-4.6],[11.33,-3],[11.45,-2.1],[11.55,-2],[11.67,-2.9],[11.8,-4],[11.9,-4.9],[12,-5.5]];
const fGrnADS: Pt[] = [[8,-5.5],[8.1,-4.5],[8.2,-3.5],[8.3,-2.6],[8.4,-1.8],[8.5,-1.2],[8.6,-0.8],[8.68,-0.7],[8.77,-1.1],[8.86,-1.8],[8.92,-2.8],[8.98,-4],[9.04,-5.5],[9.1,-7.2],[9.16,-9.3],[9.22,-11.8],[9.27,-14.6],[9.32,-17.8],[9.37,-21.5],[9.41,-24],[9.45,-19],[9.5,-13.5],[9.56,-9],[9.63,-5.8],[9.72,-3.7],[9.82,-2.3],[9.92,-1.5],[10.02,-1.1],[10.12,-1.0],[10.22,-1.5],[10.3,-2.3],[10.38,-3.4],[10.46,-4.7],[10.53,-6],[10.6,-7.5],[10.66,-9],[10.72,-11],[10.78,-13],[10.84,-15.5],[10.89,-18],[10.94,-20.5],[10.98,-22.5],[11.02,-17],[11.07,-12],[11.13,-8],[11.2,-5.3],[11.3,-3.2],[11.4,-2],[11.5,-1.6],[11.6,-2],[11.72,-2.8],[11.85,-3.6],[12,-4.5]];
const fGrnCST: Pt[] = [[8,-8.5],[8.1,-7],[8.2,-5.5],[8.3,-4.1],[8.4,-2.9],[8.5,-1.9],[8.6,-1.2],[8.68,-1.1],[8.78,-1.9],[8.88,-3.4],[8.97,-5.5],[9.05,-8.2],[9.12,-11],[9.18,-13.8],[9.24,-16.8],[9.29,-19.8],[9.34,-22.8],[9.39,-26],[9.43,-21],[9.47,-16],[9.52,-11.5],[9.58,-7.8],[9.66,-5],[9.75,-3.2],[9.86,-2],[9.97,-1.4],[10.08,-1.2],[10.18,-1.4],[10.27,-2.1],[10.36,-3.1],[10.45,-4.3],[10.53,-5.8],[10.6,-7.3],[10.67,-9],[10.74,-11],[10.8,-13.2],[10.86,-15.8],[10.91,-18.5],[10.96,-21.5],[11.0,-24.5],[11.04,-19],[11.09,-13],[11.15,-8.5],[11.22,-5.5],[11.32,-3.3],[11.42,-2.1],[11.52,-1.8],[11.62,-2.3],[11.75,-3.2],[11.88,-4.1],[12,-5.0]];
const fGrnMeas: Pt[] = [[8,-7.5],[8.1,-6.2],[8.2,-4.9],[8.3,-3.7],[8.4,-2.7],[8.5,-2],[8.6,-1.5],[8.68,-1.5],[8.78,-2.3],[8.88,-3.8],[8.97,-5.8],[9.05,-8.2],[9.12,-10.8],[9.19,-13.6],[9.26,-16.5],[9.32,-19.5],[9.38,-22.5],[9.43,-24],[9.47,-19],[9.52,-14.5],[9.58,-10.5],[9.65,-7.3],[9.73,-5],[9.83,-3.4],[9.94,-2.6],[10.05,-2.2],[10.15,-2.2],[10.24,-2.8],[10.33,-3.7],[10.42,-4.9],[10.5,-6.2],[10.58,-7.7],[10.65,-9.3],[10.72,-11.2],[10.79,-13.3],[10.85,-15.7],[10.91,-18.5],[10.97,-21.5],[11.03,-24],[11.08,-25.5],[11.12,-20],[11.16,-14.5],[11.21,-10],[11.28,-6.5],[11.37,-4],[11.47,-2.4],[11.55,-2],[11.65,-2.5],[11.78,-3.6],[11.9,-4.6],[12,-5.5]];

// legend texts: [text, italic]
type Seg = [string, boolean];
const purA: Seg[][] = [[['VD2,3', true], ['=0 V, ', false], ['VD1', true], ['=24 V', false]], [['Cv2,3', true], ['=65 fF, ', false], ['Cv1', true], ['=30 fF', false]]];
const purC: Seg[][] = [[['VD1,3', true], ['=0 V, ', false], ['VD2', true], ['=24 V', false]], [['Cv1,3', true], ['=65 fF, ', false], ['Cv2', true], ['=30 fF', false]]];
const purE: Seg[][] = [[['VD1,2', true], ['=0 V, ', false], ['VD3', true], ['=24 V', false]], [['Cv1,2', true], ['=65 fF, ', false], ['Cv3', true], ['=30 fF', false]]];
const grnAll: Seg[][] = [[['VDi', true], ['=24 V', false]], [['Cvi', true], ['=30 fF', false]]];
const typeNames = ['Meas.', 'Simul. CST', 'Simul. ADS'];

// ---------- style / layout ----------
const PUR = { ADS: '#5a2b9b', CST: '#7c6cc4', Meas: '#a59bd1', swatch: '#7163bb' };
const GRN = { ADS: '#16793a', CST: '#3ca64f', Meas: '#86cc8f', swatch: '#2f9e48' };
const GRAY = { Meas: '#9c9c9c', CST: '#6b6b6b', ADS: '#282828' };
const COLS = [{ x0: 42, x1: 325 }, { x0: 358, x1: 641 }];
const ROWS = [12, 292.5, 574];
const PH = 218.5;
const FONT = '"Liberation Sans", Arial, sans-serif';
const LEG_FS = 13.5;

type Box = { x: number; y: number; w: number; h: number };
type PanelDef = {
  id: string; col: number; row: number; s21: boolean;
  pur: Pt[][]; grn: Pt[][]; // [Meas, CST, ADS]
  purText: Seg[][];
  typeBox: Box; purBox: Box; grnBox: Box;
};

const panels: PanelDef[] = [
  { id: 'a', col: 0, row: 0, s21: false, pur: [aPurMeas, aPurCST, aPurADS], grn: [aGrnMeas, aGrnCST, aGrnADS], purText: purA,
    typeBox: { x: 199, y: 140, w: 96, h: 44 }, purBox: { x: 52, y: 193, w: 163, h: 31 }, grnBox: { x: 235, y: 193, w: 77, h: 31 } },
  { id: 'b', col: 1, row: 0, s21: true, pur: [bPurMeas, bPurCST, bPurADS], grn: [bGrnMeas, bGrnCST, bGrnADS], purText: purA,
    typeBox: { x: 462, y: 153, w: 93, h: 46 }, purBox: { x: 362, y: 197, w: 162, h: 32 }, grnBox: { x: 563, y: 197, w: 75, h: 31 } },
  { id: 'c', col: 0, row: 1, s21: false, pur: [cPurMeas, cPurCST, cPurADS], grn: [cGrnMeas, cGrnCST, cGrnADS], purText: purC,
    typeBox: { x: 180, y: 420, w: 97, h: 45 }, purBox: { x: 147, y: 475, w: 161, h: 32 }, grnBox: { x: 45, y: 475, w: 77, h: 32 } },
  { id: 'd', col: 1, row: 1, s21: true, pur: [dPurMeas, dPurCST, dPurADS], grn: [dGrnMeas, dGrnCST, dGrnADS], purText: purC,
    typeBox: { x: 459, y: 435, w: 97, h: 44 }, purBox: { x: 360, y: 480, w: 165, h: 32 }, grnBox: { x: 362, y: 437, w: 80, h: 36 } },
  { id: 'e', col: 0, row: 2, s21: false, pur: [ePurMeas, ePurCST, ePurADS], grn: [eGrnMeas, eGrnCST, eGrnADS], purText: purE,
    typeBox: { x: 203, y: 700, w: 99, h: 47 }, purBox: { x: 49, y: 755, w: 164, h: 35 }, grnBox: { x: 232, y: 752, w: 76, h: 38 } },
  { id: 'f', col: 1, row: 2, s21: true, pur: [fPurMeas, fPurCST, fPurADS], grn: [fGrnMeas, fGrnCST, fGrnADS], purText: purE,
    typeBox: { x: 463, y: 718, w: 95, h: 44 }, purBox: { x: 362, y: 760, w: 163, h: 33 }, grnBox: { x: 562, y: 760, w: 76, h: 30 } },
];

const KINDS = ['Meas', 'CST', 'ADS'] as const;
const triPath = d3.symbol().type(d3.symbolTriangle).size(26)() as string;

function Marker({ kind, cx, cy, color }: { kind: string; cx: number; cy: number; color: string }) {
  if (kind === 'Meas') return <circle cx={cx} cy={cy} r={2.9} fill={color} />;
  if (kind === 'CST') return <path d={triPath} transform={`translate(${cx},${cy - 0.5})`} fill={color} />;
  return <rect x={cx - 2.3} y={cy - 2.3} width={4.6} height={4.6} fill={color} />;
}

// two lines in one text element, italic parts as tspans
function StateLegend({ box, segs, swatch }: { box: Box; segs: Seg[][]; swatch: string }) {
  const tx = box.x + (segs[0].length > 2 ? 17 : 15.5);
  const lh = 12.5;
  const b1 = box.y + box.h / 2 - 2;
  return (
    <g>
      <rect x={box.x} y={box.y} width={box.w} height={box.h} rx={4} fill="#fff" stroke="#6e6e6e" strokeWidth={1} />
      <rect x={box.x + 4.5} y={box.y + box.h / 2 - 8.5} width={9} height={17} fill={swatch} stroke="#3a3a3a" strokeWidth={0.8} />
      <text fontSize={LEG_FS} fontFamily={FONT} fill="#1e1e1e" style={{ whiteSpace: 'pre' }}>
        {segs.map((line, i) =>
          line.map((s, j) => (
            <tspan key={i + '-' + j} x={j === 0 ? tx : undefined} y={j === 0 ? b1 + i * lh : undefined}
              fontStyle={s[1] ? 'italic' : 'normal'} dx={!s[1] && j > 0 ? 0.6 : 0}>{s[0]}</tspan>
          ))
        )}
      </text>
    </g>
  );
}

function TypeLegend({ box }: { box: Box }) {
  const step = (box.h - 6) / 3;
  return (
    <g>
      <rect x={box.x} y={box.y} width={box.w} height={box.h} rx={4} fill="#fff" stroke="#6e6e6e" strokeWidth={1} />
      {KINDS.map((k, i) => {
        const cy = box.y + 3 + step * (i + 0.5);
        const c = GRAY[k];
        return (
          <g key={k}>
            <line x1={box.x + 4} x2={box.x + 17} y1={cy} y2={cy} stroke={c} strokeWidth={k === 'ADS' ? 2 : 1.5} />
            <Marker kind={k} cx={box.x + 6.5} cy={cy} color={c} />
            <Marker kind={k} cx={box.x + 14.5} cy={cy} color={c} />
          </g>
        );
      })}
      <text fontSize={LEG_FS} fontFamily={FONT} fill="#1e1e1e">
        {typeNames.map((n, i) => (
          <tspan key={n} x={box.x + 21} y={box.y + 3 + step * (i + 0.5) + 4.5}>{n}</tspan>
        ))}
      </text>
    </g>
  );
}

function Panel({ p }: { p: PanelDef }) {
  const { x0, x1 } = COLS[p.col];
  const top = ROWS[p.row];
  const bot = top + PH;
  const yMin = p.s21 ? -35 : -27;
  const yTicks = p.s21 ? s21Ticks : s11Ticks;
  const x = d3.scaleLinear().domain([8, 12]).range([x0, x1]);
  const y = d3.scaleLinear().domain([yMin, 0]).range([bot, top]);
  const line = d3.line<Pt>().x((d) => x(d[0])).y((d) => y(d[1])).curve(d3.curveMonotoneX);
  const clipId = `clip-${p.id}`;
  const series: { data: Pt[]; kind: string; color: string }[] = [];
  KINDS.forEach((k, i) => {
    series.push({ data: p.grn[i], kind: k, color: GRN[k] });
    series.push({ data: p.pur[i], kind: k, color: PUR[k] });
  });
  const cx = (x0 + x1) / 2;
  const lastRight = p.col === 1;
  return (
    <g>
      <defs>
        <clipPath id={clipId}>
          <rect x={x0} y={top - 3} width={x1 - x0} height={PH + 3} />
        </clipPath>
      </defs>
      {/* grid */}
      {freqTicks.slice(1, -1).map((t) => (
        <line key={'gx' + t} x1={x(t)} x2={x(t)} y1={top} y2={bot} stroke="#c4c4c4" strokeDasharray="5,4" strokeWidth={1} />
      ))}
      {yTicks.slice(1).map((t) => (
        <line key={'gy' + t} x1={x0} x2={x1} y1={y(t)} y2={y(t)} stroke="#c4c4c4" strokeDasharray="5,4" strokeWidth={1} />
      ))}
      {/* curves */}
      <g clipPath={`url(#${clipId})`}>
        {series.map((s, i) => (
          <g key={i}>
            <path d={line(s.data) as string} fill="none" stroke={s.color} strokeWidth={s.kind === 'ADS' ? 2 : 1.6} />
            {s.data.map((d, j) => (
              <Marker key={j} kind={s.kind} cx={x(d[0])} cy={y(d[1])} color={s.color} />
            ))}
          </g>
        ))}
      </g>
      {/* frame */}
      <rect x={x0} y={top} width={x1 - x0} height={PH} fill="none" stroke="#9a9a9a" strokeWidth={1} />
      {/* ticks */}
      {freqTicks.map((t, i) => {
        const isLast = i === freqTicks.length - 1 && lastRight;
        return (
          <text key={'tx' + t} x={isLast ? 642 : x(t)} y={bot + 18} fontSize={14} fontFamily={FONT} fill="#222"
            textAnchor={isLast ? 'end' : 'middle'}>{t}</text>
        );
      })}
      {yTicks.map((t) => (
        <text key={'ty' + t} x={x0 - 5} y={y(t) + 5} fontSize={14} fontFamily={FONT} fill="#222" textAnchor="end">{t}</text>
      ))}
      <text x={cx} y={bot + 32} fontSize={14} fontFamily={FONT} fill="#222" textAnchor="middle">frequency, GHz</text>
      <text x={cx} y={bot + 48} fontSize={16} fontFamily='"Liberation Serif", "Times New Roman", serif' fill="#222" textAnchor="middle">({p.id})</text>
      <text transform={`translate(${x0 - 25},${top + 106}) rotate(-90)`} fontSize={14} fontFamily={FONT} fill="#222" textAnchor="middle">
        {p.s21 ? '|S21|, dB' : '|S11|, dB'}
      </text>
      {/* legends */}
      <TypeLegend box={p.typeBox} />
      <StateLegend box={p.purBox} segs={p.purText} swatch={PUR.swatch} />
      <StateLegend box={p.grnBox} segs={grnAll} swatch={GRN.swatch} />
    </g>
  );
}

export default function App() {
  return (
    <svg width={643} height={853} style={{ position: 'absolute', left: 0, top: 0, background: '#fff' }}>
      <rect width={643} height={853} fill="#fff" />
      {panels.map((p) => (
        <Panel key={p.id} p={p} />
      ))}
    </svg>
  );
}
